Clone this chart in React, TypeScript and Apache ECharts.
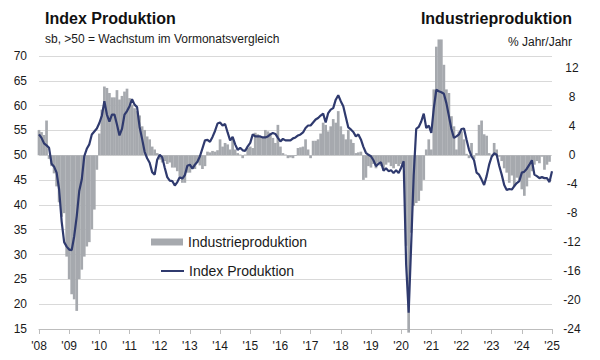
import React, { useEffect, useRef } from "react";
import * as echarts from "echarts";

const FONT = '"Liberation Sans", Arial, sans-serif';

const startYear = 2008;
const endYear = 2025;
const yearLabels = ["'08", "'09", "'10", "'11", "'12", "'13", "'14", "'15", "'16", "'17", "'18", "'19", "'20", "'21", "'22", "'23", "'24", "'25"];

// Industrieproduktion, % Jahr/Jahr (right axis), monthly from 2008-01
const industrieproduktion = [
  3.5, 3.2, 2.8, 4.8, -0.5, -1.5, -2.5, -4.3, -6.5, -8.5, -8.0, -14.0,
  -17.1, -19.2, -19.9, -21.5, -17.1, -15.8, -14.0, -12.6, -12.0, -10.2, -7.5, -2.0,
  3.0, 6.3, 9.5, 9.3, 8.6, 8.0, 8.0, 9.0, 7.7, 8.2, 8.8, 9.2,
  7.9, 7.0, 6.5, 6.1, 5.5, 4.0, 3.5, 2.6, 2.2, 1.2, 0.8, 0.3,
  -0.6, -1.0, -0.8, -1.2, -1.0, -1.7, -1.7, -2.2, -2.9, -3.8, -3.8, -2.4,
  -2.4, -1.9, -1.9, -1.0, -1.4, -1.9, -1.5, 0.5, 0.4, 0.6, 0.5, 0.7,
  2.2, 1.2, 1.7, 1.5, 0.8, 2.2, 0.8, 0.3, 0.1, -0.4, 0.1, 1.0,
  1.2, 1.0, 3.1, 2.9, 2.6, 2.4, 3.5, 3.3, 3.1, 2.4, 1.7, 4.2,
  1.2, 0.3, 0.1, -0.4, -0.3, -0.4, -0.1, 1.0, 1.1, 1.2, 2.2, 0.8,
  -0.4, 2.0, 2.0, 2.2, 3.0, 4.5, 4.2, 3.3, 4.0, 5.0, 4.5, 6.1,
  4.0, 2.9, 2.2, 3.5, 2.2, 1.7, 0.3, 0.4, 0.5, -3.4, -3.1, -1.5,
  -1.7, -1.2, -1.8, -1.0, -1.5, -1.8, -1.3, -1.0, -1.5, -1.8, -1.2, -1.5,
  -1.2, -1.5, -12.5, -24.5, -10.7, -7.0, -6.6, -6.3, -4.9, -3.4, 0.8, 2.2,
  0.8, 9.1, 15.0, 16.0, 16.0, 12.5, 9.1, 8.6, 5.4, 4.0, 0.8, 3.3,
  3.3, 2.2, 0.2, -0.4, 1.7, -0.5, 0.3, 4.2, 4.8, 2.9, 2.7, 0.3,
  0.1, 1.7, 0.8, -0.2, -0.8, -1.8, -2.4, -3.8, -2.8, -4.3, -3.1, -3.4,
  -4.7, -5.6, -4.3, -3.1, -2.2, -1.3, -0.8, -1.1, -0.2, -2.0, -1.3, -0.9,
];

// Index Produktion (left axis), monthly from 2008-01
const indexProduktion = [
  54.2, 53.5, 52.4, 52.0, 51.5, 48.3, 47.7, 46.5, 43.1, 36.7, 32.5, 31.6,
  31.0, 30.9, 33.7, 37.7, 42.8, 45.1, 49.8, 51.3, 52.2, 54.2, 54.8, 55.4,
  56.5, 58.0, 60.9, 58.2, 56.8, 58.2, 58.2, 56.2, 54.0, 55.3, 58.2, 58.9,
  59.9, 61.3, 60.2, 59.7, 55.7, 53.3, 50.7, 49.4, 48.5, 46.6, 46.1, 49.1,
  50.1, 49.6, 47.5, 45.6, 44.9, 44.8, 43.9, 44.6, 45.6, 45.3, 46.0, 47.9,
  48.1, 47.3, 48.1, 48.7, 49.8, 51.4, 53.0, 53.1, 52.7, 53.7, 54.9, 56.4,
  56.6, 56.0, 56.3, 54.6, 53.0, 53.7, 52.2, 51.1, 51.5, 51.0, 50.9, 51.8,
  52.5, 54.2, 53.8, 53.8, 53.8, 53.6, 53.6, 53.8, 54.2, 54.5, 54.3, 53.5,
  52.8, 53.3, 53.0, 53.0, 53.0, 53.4, 53.6, 54.0, 54.2, 54.6, 55.5, 56.0,
  56.0, 56.6, 57.2, 57.5, 58.0, 58.4, 56.6, 58.5, 59.2, 59.5, 61.2, 62.1,
  60.9, 59.9, 57.7, 55.6, 55.2, 54.7, 53.8, 54.2, 53.2, 51.7, 50.5, 50.1,
  49.8, 49.0, 47.8, 48.3, 48.6, 46.9, 47.4, 46.8, 47.0, 46.4, 47.0, 46.4,
  47.5, 48.8, 28.0, 18.3, 32.0, 46.0, 55.3, 55.7, 56.8, 58.4, 55.5, 56.0,
  54.5, 59.5, 63.2, 62.9, 62.7, 62.4, 60.5, 57.9, 55.3, 53.5, 53.8, 54.2,
  55.3, 55.4, 53.2, 51.1, 49.8, 49.0, 46.5, 46.1, 45.1, 44.0, 45.8, 48.1,
  49.7, 50.4, 50.1, 47.9, 46.1, 44.0, 43.0, 43.2, 43.1, 43.8, 44.4, 44.8,
  46.5, 46.7, 47.3, 48.1, 49.0, 46.1, 45.8, 45.4, 45.6, 45.4, 45.4, 44.6,
  46.8,
];

// month categories "YYYY-MM"
const months: string[] = [];
for (let i = 0; i < indexProduktion.length; i++) {
  const y = startYear + Math.floor(i / 12);
  const m = (i % 12) + 1;
  months.push(`${y}-${m < 10 ? "0" + m : m}`);
}
const monthToYear = (label: string) => {
  const [y, m] = label.split("-").map(Number);
  return y + (m - 1) / 12;
};

const BAR_COLOR = "#a6a9ae";
const LINE_COLOR = "#2f3a6e";
const TEXT_COLOR = "#1a1a1a";

export default function App() {
  const ref = useRef<HTMLDivElement>(null);
  useEffect(() => {
    if (!ref.current) return;
    const chart = echarts.init(ref.current, undefined, { renderer: "svg" });
    const barData = industrieproduktion.map((v, i) => [monthToYear(months[i]), v]);
    const lineData = indexProduktion.map((v, i) => [monthToYear(months[i]), v]);
    chart.setOption({
      animation: false,
      backgroundColor: "#ffffff",
      textStyle: { fontFamily: FONT },
      grid: { left: 39, right: 48, top: 56, bottom: 31, containLabel: false },
      xAxis: {
        type: "value",
        min: startYear,
        max: endYear,
        interval: 1,
        axisLine: { show: true, onZero: false, lineStyle: { color: "#bdbdbd", width: 1 } },
        axisTick: { show: true, length: 5, lineStyle: { color: "#bdbdbd" } },
        splitLine: { show: false },
        axisLabel: {
          color: TEXT_COLOR,
          fontSize: 12,
          fontFamily: FONT,
          margin: 11,
          formatter: (v: number) => yearLabels[Math.round(v) - startYear] ?? "",
        },
      },
      yAxis: [
        {
          type: "value",
          position: "left",
          min: 15,
          max: 70,
          interval: 5,
          axisLine: { show: false },
          axisTick: { show: false },
          splitLine: { show: true, lineStyle: { color: "#d9d9d9", width: 1 } },
          axisLabel: { color: TEXT_COLOR, fontSize: 12, fontFamily: FONT, margin: 12 },
        },
        {
          type: "value",
          position: "right",
          min: -24,
          max: 96 / 7,
          interval: 4,
          axisLine: { show: false },
          axisTick: { show: false },
          splitLine: { show: false },
          axisLabel: {
            color: TEXT_COLOR,
            fontSize: 12,
            fontFamily: FONT,
            margin: 20,
            align: "center",
            showMaxLabel: false,
            formatter: (v: number) => (Math.abs(v % 4) < 1e-6 ? String(v) : ""),
          },
        },
      ],
      legend: [
        {
          data: ["Industrieproduktion"],
          left: 146,
          top: 229,
          orient: "vertical",
          icon: "rect",
          itemWidth: 32,
          itemHeight: 7,
          textStyle: { color: TEXT_COLOR, fontSize: 14, fontFamily: FONT, lineHeight: 16 },
          selectedMode: false,
        },
        {
          data: ["Index Produktion"],
          left: 156,
          top: 258,
          orient: "vertical",
          icon: "rect",
          itemWidth: 23,
          itemHeight: 2,
          textStyle: { color: TEXT_COLOR, fontSize: 14, fontFamily: FONT, lineHeight: 16 },
          selectedMode: false,
        },
      ],
      graphic: [
        {
          type: "text",
          x: 45,
          y: 18,
          style: { text: "Index Produktion", font: `bold 16px ${FONT}`, fill: "#111", align: "left", verticalAlign: "middle" },
        },
        {
          type: "text",
          x: 45,
          y: 39,
          style: { text: "sb, >50 = Wachstum im Vormonatsvergleich", font: `12px ${FONT}`, fill: TEXT_COLOR, align: "left", verticalAlign: "middle" },
        },
        {
          type: "text",
          x: 572,
          y: 18,
          style: { text: "Industrieproduktion", font: `bold 16px ${FONT}`, fill: "#111", align: "right", verticalAlign: "middle" },
        },
        {
          type: "text",
          x: 572,
          y: 42,
          style: { text: "% Jahr/Jahr", font: `12px ${FONT}`, fill: TEXT_COLOR, align: "right", verticalAlign: "middle" },
        },
      ],
      series: [
        {
          name: "Industrieproduktion",
          type: "bar",
          yAxisIndex: 1,
          data: barData,
          barWidth: 2.7,
          clip: false,
          color: BAR_COLOR,
          itemStyle: { color: BAR_COLOR },
          z: 1,
        },
        {
          name: "Index Produktion",
          type: "line",
          yAxisIndex: 0,
          data: lineData,
          showSymbol: false,
          symbol: "none",
          color: LINE_COLOR,
          itemStyle: { color: LINE_COLOR },
          lineStyle: { color: LINE_COLOR, width: 2.2 },
          z: 3,
        },
      ],
    });
    return () => chart.dispose();
  }, []);
  return <div ref={ref} style={{ position: "absolute", left: 0, top: 0, width: 600, height: 360 }} />;
}
